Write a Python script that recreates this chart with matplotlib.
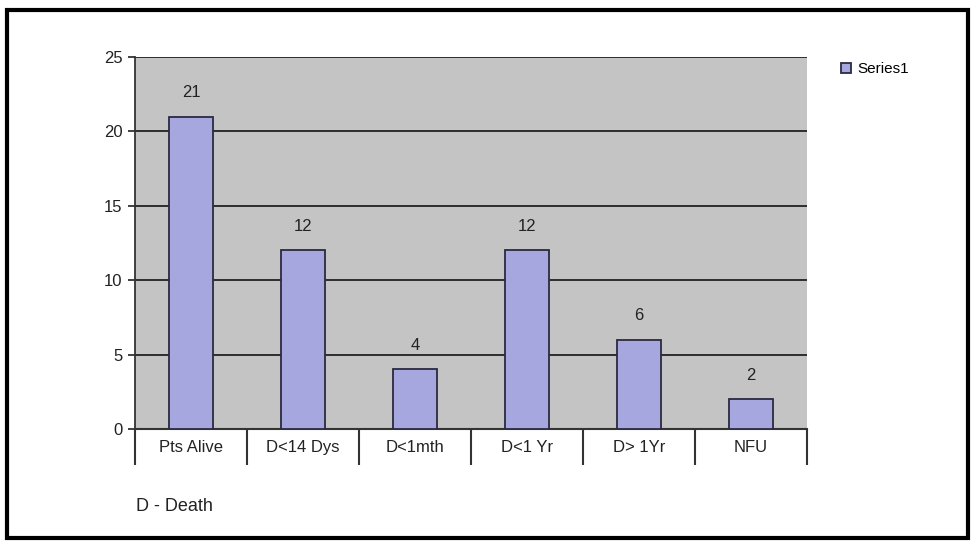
import matplotlib.pyplot as plt
from matplotlib.patches import Rectangle

categories = ["Pts Alive", "D<14 Dys", "D<1mth", "D<1 Yr", "D> 1Yr", "NFU"]
values = [21, 12, 4, 12, 6, 2]
yticks = [0, 5, 10, 15, 20, 25]

fig = plt.figure(figsize=(9.73, 5.41), dpi=100)
plt.rcParams['font.family'] = ['Liberation Sans', 'DejaVu Sans']

# outer black frame
fig.patches.append(Rectangle((0.007, 0.006), 0.988, 0.975, transform=fig.transFigure,
                             fill=False, edgecolor='black', linewidth=3))

ax = fig.add_axes([0.1387, 0.207, 0.6907, 0.6876])
ax.set_facecolor('#c4c4c4')
x = list(range(len(categories)))
bars = ax.bar(x, values, width=0.4, color='#a7a7df', edgecolor='#2a2a40', linewidth=1.3,
              zorder=3, label='Series1')
for xi, v in zip(x, values):
    ax.text(xi, v + 1.1, str(v), ha='center', va='bottom', fontsize=12, color='#222222')

ax.set_xlim(-0.5, len(categories) - 0.5)
ax.set_ylim(0, 25)
ax.set_yticks(yticks)
ax.set_yticklabels([str(t) for t in yticks], fontsize=12, color='#222222')
ax.yaxis.grid(True, color='#222222', linewidth=1.3, zorder=0)
ax.set_axisbelow(True)

# category labels between boundary ticks
ax.set_xticks([i - 0.5 for i in range(len(categories) + 1)])
ax.set_xticklabels([])
ax.tick_params(axis='x', length=26, width=1.5, color='#333333')
ax.tick_params(axis='y', length=5, width=1.3, color='#333333', pad=4)
for xi, c in zip(x, categories):
    ax.text(xi, -0.75, c, ha='center', va='top', fontsize=12, color='#222222',
            transform=ax.transData)

for s in ['top', 'right']:
    ax.spines[s].set_visible(False)
ax.spines['left'].set_color('#333333')
ax.spines['left'].set_linewidth(1.3)
ax.spines['bottom'].set_color('#333333')
ax.spines['bottom'].set_linewidth(1.5)

fig.legend(handles=[bars], labels=['Series1'], loc='upper left',
           bbox_to_anchor=(0.85, 0.91), frameon=False, fontsize=11,
           handlelength=0.7, handleheight=0.7, handletextpad=0.4)

fig.text(0.14, 0.055, "D - Death", fontsize=13, color='#222222')

fig.savefig('out.png', dpi=100)
